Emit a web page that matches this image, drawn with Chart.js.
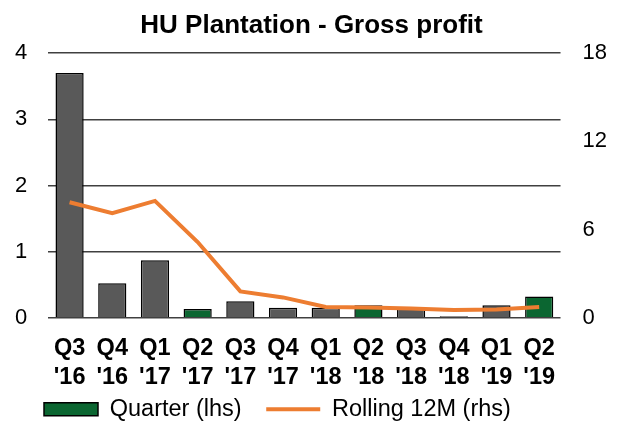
<!DOCTYPE html>
<html>
<head>
<meta charset="utf-8">
<script src="https://cdn.jsdelivr.net/npm/chart.js@4"></script>
<style>
  html, body { margin: 0; padding: 0; background: #fff; }
  #wrap { width: 620px; height: 421px; }
</style>
</head>
<body>
<div id="wrap"><canvas id="hcChart"></canvas></div>
<script>
const quarterLabels = [["Q3", "'16"], ["Q4", "'16"], ["Q1", "'17"], ["Q2", "'17"], ["Q3", "'17"], ["Q4", "'17"],
  ["Q1", "'18"], ["Q2", "'18"], ["Q3", "'18"], ["Q4", "'18"], ["Q1", "'19"], ["Q2", "'19"]];
const quarterValues = [3.70, 0.52, 0.87, 0.13, 0.25, 0.15, 0.15, 0.19, 0.16, 0.02, 0.19, 0.32];
const rollingValues = [7.86, 7.11, 7.95, 5.15, 1.79, 1.38, 0.73, 0.69, 0.62, 0.53, 0.56, 0.73];
const lhsTicks = [0, 1, 2, 3, 4];
const rhsTicks = [0, 6, 12, 18];

const GREEN = "#0B6631";
const GREY = "#595959";
const ORANGE = "#ED7D31";
const FONT = "'Liberation Sans', Arial, sans-serif";

// Q2 bars are green, others grey
const barColors = quarterLabels.map(l => l[0] === "Q2" ? GREEN : GREY);

// legend sits left of centre in the original
const legendShift = {
  id: "legendShift",
  beforeDraw(chart) {
    chart.legend.left = 39;
  }
};

new Chart(document.getElementById("hcChart"), {
  type: "bar",
  data: {
    labels: quarterLabels,
    datasets: [
      {
        type: "line",
        label: "Rolling 12M (rhs)",
        data: rollingValues,
        yAxisID: "y2",
        borderColor: ORANGE,
        borderWidth: 4,
        pointRadius: 0,
        tension: 0,
        order: 0
      },
      {
        label: "Quarter (lhs)",
        data: quarterValues,
        yAxisID: "y",
        backgroundColor: barColors,
        borderColor: "#000",
        borderWidth: 1.5,
        categoryPercentage: 1,
        barPercentage: 0.66,
        order: 1
      }
    ]
  },
  options: {
    responsive: true,
    maintainAspectRatio: false,
    animation: false,
    layout: { padding: { left: -6, right: -9, top: 0, bottom: -10 } },
    plugins: {
      title: {
        display: true,
        text: "HU Plantation - Gross profit",
        color: "#000",
        font: { family: FONT, size: 26, weight: "bold" },
        padding: { top: 10, bottom: 12 }
      },
      legend: {
        position: "bottom",
        align: "start",
        labels: {
          color: "#000",
          font: { family: FONT, size: 23.5 },
          usePointStyle: true,
          pointStyleWidth: 54,
          boxHeight: 13,
          padding: 5,
          generateLabels: () => [
            { text: "Quarter (lhs)   ", fillStyle: GREEN, strokeStyle: "#000", lineWidth: 1.5, pointStyle: "rect", datasetIndex: 1 },
            { text: "Rolling 12M (rhs)", fillStyle: ORANGE, strokeStyle: ORANGE, lineWidth: 4, pointStyle: "line", datasetIndex: 0 }
          ]
        }
      },
      tooltip: { enabled: false }
    },
    scales: {
      x: {
        grid: { display: false },
        border: { display: false },
        afterFit: axis => { axis.height -= 7; },
        ticks: {
          color: "#000",
          font: { family: FONT, size: 23.5, weight: "bold", lineHeight: 1.23 },
          padding: 8,
          maxRotation: 0,
          autoSkip: false
        }
      },
      y: {
        position: "left",
        min: 0,
        max: 4,
        afterBuildTicks: axis => { axis.ticks = lhsTicks.map(v => ({ value: v })); },
        grid: { color: "#404040", lineWidth: 1.5, drawTicks: false },
        border: { display: false },
        ticks: {
          color: "#000",
          font: { family: FONT, size: 22 },
          padding: 21
        }
      },
      y2: {
        position: "right",
        min: 0,
        max: 18,
        afterBuildTicks: axis => { axis.ticks = rhsTicks.map(v => ({ value: v })); },
        grid: { display: false, drawTicks: false },
        border: { display: false },
        ticks: {
          color: "#000",
          font: { family: FONT, size: 22 },
          padding: 22
        }
      }
    }
  },
  plugins: [legendShift]
});
</script>
</body>
</html>
